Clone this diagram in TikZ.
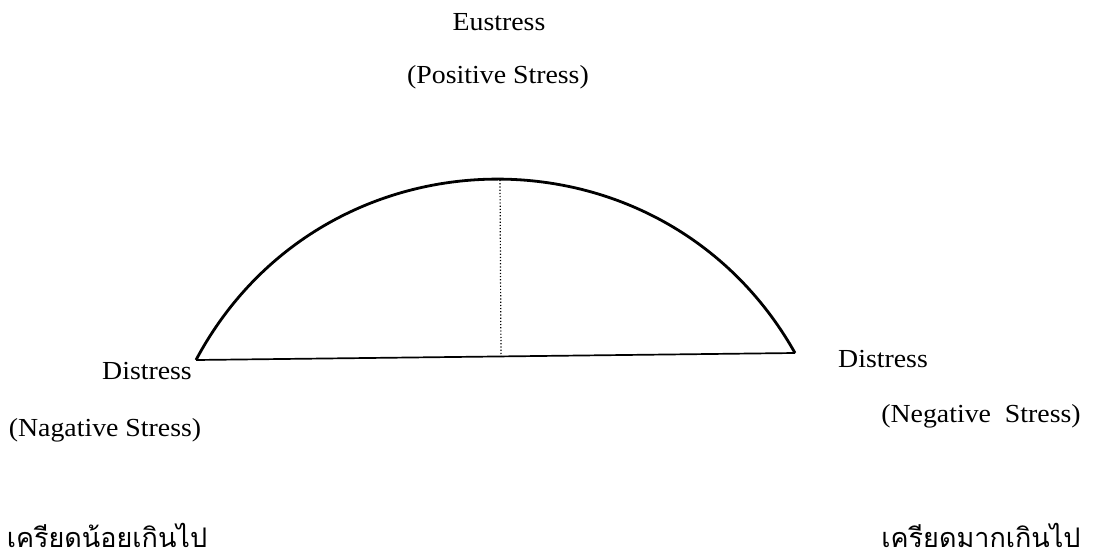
\documentclass[tikz,border=0pt]{standalone}
\usepackage{fontspec}
\setmainfont{Liberation Serif}[FakeStretch=1.07]
\newfontfamily\thaifont[Script=Thai]{Loma}
\begin{document}
\begin{tikzpicture}[x=1pt,y=-1pt,
  lbl/.style={font=\fontsize{26}{30}\selectfont, inner sep=0pt},
  thai/.style={font=\thaifont\fontsize{27}{32}\selectfont, inner sep=0pt, anchor=base},
  arcline/.style={line width=2.8pt},
  baseline/.style={line width=1.7pt},
  midline/.style={line width=1.2pt, dotted}]
\useasboundingbox (0,0) rectangle (1094,559);
\coordinate (L) at (196,360);
\coordinate (R) at (795,353);
\coordinate (T) at (500,180);
\coordinate (B) at (501,356);
\draw[arcline] (L) to[bend left=61.3, looseness=1.15] (R);
\draw[baseline] (L) -- (R);
\draw[midline] (T) -- (B);
\node[lbl] (eu) at (499,22) {Eustress};
\node[lbl] (pos) at (498,77) {(Positive Stress)};
\node[lbl] (dl) at (147,371) {Distress};
\node[lbl] (nl) at (105,430) {(Nagative Stress)};
\node[lbl] (dr) at (883,359) {Distress};
\node[lbl] (nr) at (981,416) {(Negative\ \ Stress)};
\node[thai] (tl) at (107,547) {เครียดน้อยเกินไป};
\node[thai] (tr) at (981,547) {เครียดมากเกินไป};
\end{tikzpicture}
\end{document}
